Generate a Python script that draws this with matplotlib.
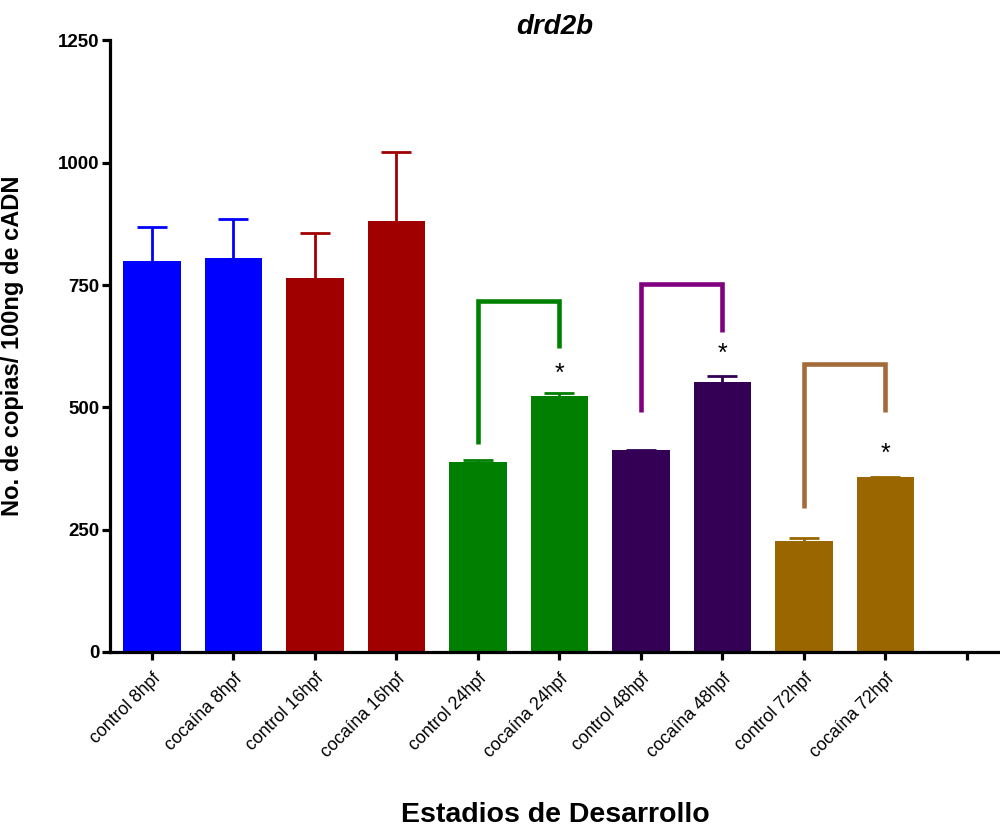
import matplotlib
matplotlib.use("Agg")
import matplotlib.pyplot as plt
import matplotlib.transforms as mtransforms
import numpy as np

# data (copies / 100 ng cDNA)
categories = ["control 8hpf", "cocaína 8hpf", "control 16hpf", "cocaína 16hpf",
              "control 24hpf", "cocaína 24hpf", "control 48hpf", "cocaína 48hpf",
              "control 72hpf", "cocaína 72hpf", ""]
means = [800, 805, 764, 881, 388, 523, 413, 552, 227, 358]
errors = [68, 79, 93, 140, 4, 6, 0, 12, 5, 0]
bar_colors = ["#0000ff", "#0000ff", "#a00000", "#a00000", "#007f00", "#007f00",
              "#330055", "#330055", "#996600", "#996600"]

# significance brackets: (left bar, right bar), top, left leg end, right leg end
bracket_pairs = [(4, 5), (6, 7), (8, 9)]
bracket_top = [718, 752, 589]
bracket_left_end = [425, 490, 294]
bracket_right_end = [621, 653, 491]
bracket_colors = ["#008000", "#800080", "#a36b3a"]
star_height = [568, 609, 405]

plt.rcParams['font.family'] = ['Liberation Sans', 'DejaVu Sans']

fig = plt.figure(figsize=(10, 8.3), dpi=100)
ax = fig.add_axes([0.11, 0.2145, 0.89, 0.7368])

index = np.arange(len(means))
for i in index:
    eb = ax.errorbar(i, means[i], yerr=[[0], [errors[i]]], color=bar_colors[i],
                     elinewidth=2, capsize=10.5, capthick=2, zorder=1)
    eb[1][0].set_visible(False)  # no lower cap
ax.bar(index, means, width=0.71, color=bar_colors, zorder=2)

# brackets and asterisks
for k, (a, b) in enumerate(bracket_pairs):
    ax.plot([a, a, b, b],
            [bracket_left_end[k], bracket_top[k], bracket_top[k], bracket_right_end[k]],
            color=bracket_colors[k], lw=3.3, solid_joinstyle='miter',
            solid_capstyle='butt', zorder=3)
    ax.text(b, star_height[k], "*", fontsize=18, ha='center', va='center', color='black')

ax.set_xlim(-0.515, 10.405)
ax.set_ylim(0, 1250)
ax.set_yticks([0, 250, 500, 750, 1000, 1250])
ax.set_xticks(np.arange(len(categories)))
ax.set_xticklabels(categories, rotation=45, ha='right', va='top',
                   rotation_mode='anchor', fontsize=12.7)
offset = mtransforms.ScaledTranslation(4 / 100, 0, fig.dpi_scale_trans)
for lab in ax.get_xticklabels():
    lab.set_transform(lab.get_transform() + offset)

for lab in ax.get_yticklabels():
    lab.set_fontweight('bold')
    lab.set_fontsize(13.5)

for s in ['top', 'right']:
    ax.spines[s].set_visible(False)
for s in ['left', 'bottom']:
    ax.spines[s].set_linewidth(2.3)
ax.tick_params(axis='both', direction='out', length=6, width=2.3)
ax.tick_params(axis='y', pad=1.5)
ax.tick_params(axis='x', pad=7)

ax.set_title("drd2b", fontsize=20, fontweight='bold', fontstyle='italic', pad=4)
ax.set_ylabel("No. de copias/ 100ng de cADN", fontsize=17, fontweight='bold')
ax.yaxis.set_label_coords(-0.0966, 0.5)
ax.set_xlabel("Estadios de Desarrollo", fontsize=20.5, fontweight='bold')
ax.xaxis.set_label_coords(0.5, -0.2665)
ax.xaxis.label.set_va('center')

fig.savefig("out.png", dpi=100)
